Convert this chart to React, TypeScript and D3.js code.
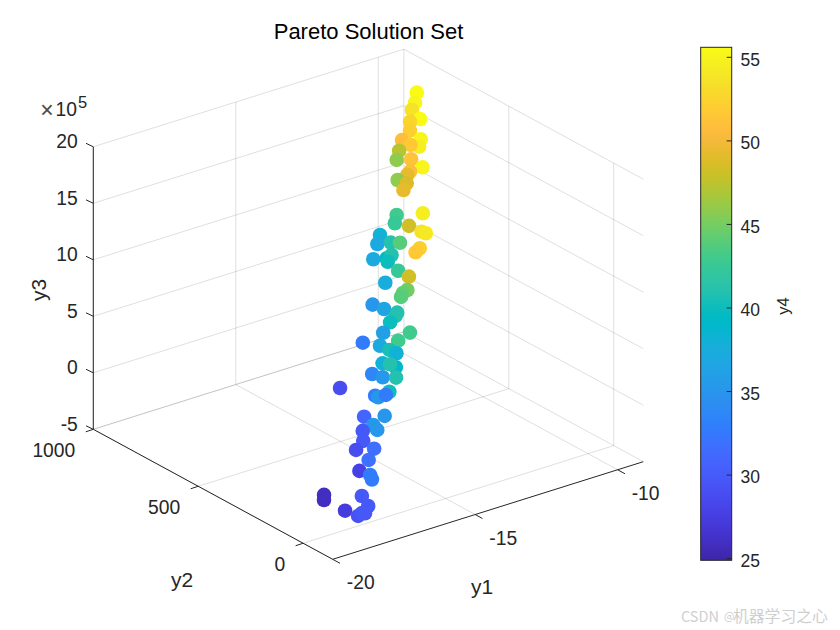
import React from "react";
import * as d3 from "d3";

// Values. A 3D position cannot be recovered exactly from one view,
// so y1, y2 and y3 are estimates consistent with each marker's position.
const y1Values = [-9.65,-9.86,-10.05,-10.02,-10.29,-10.44,-10.35,-10.51,-10.78,-10.67,-11.02,-11.23,-10.9,-10.78,-11.13,-11.25,-11.55,-11.4,-11.59,-11.55,-12.16,-12.34,-12.07,-11.89,-11.82,-12.87,-13.08,-12.76,-12.56,-12.21,-12.37,-13.43,-13.11,-12.95,-13.15,-13.07,-12.93,-13.56,-13.19,-13.34,-13.45,-14.21,-14.03,-13.8,-13.89,-14.12,-14.45,-13.85,-15.07,-14.25,-14.74,-14.6,-14.5,-14.98,-14.75,-14.83,-15.39,-15.21,-14.92,-16.34,-15.31,-15.69,-15.65,-15.44,-16.29,-15.82,-16.23,-16.22,-16.56,-16.72,-16.61,-17.03,-16.92,-17.31,-17.14,-17.18,-18.5,-18.59,-17.68,-17.71,-17.9,-18.3,-18.1,-17.96];
const y2Values = [864,844,833,798,809,789,750,736,781,755,762,745,721,683,695,692,697,674,664,577,619,603,572,537,526,602,586,566,549,502,500,558,537,536,527,488,456,483,428,429,423,455,425,394,389,384,372,326,385,328,348,322,302,303,271,288,297,271,247,321,226,242,233,225,213,179,178,160,183,159,122,151,106,97,69,55,104,92,35,1,-10,31,-4,-4];
const y3Values = [17.96,17.44,17.06,16.59,16.45,15.98,15.54,15.15,15.5,15.24,14.94,14.46,14.5,14.08,13.85,13.68,13.42,13.25,12.9,11.69,11.6,11.17,11.03,10.73,10.65,10.56,10.09,10.16,10.16,9.87,9.66,9.3,9.35,9.52,9.17,8.7,8.39,8.08,7.7,7.54,7.34,6.94,6.71,6.52,6.35,6.02,5.48,5.48,4.96,5.06,4.8,4.58,4.41,3.89,3.68,3.84,3.33,3.16,3.14,2.6,2.41,2.2,2.12,2.24,1.11,1.15,0.68,0.42,0.37,-0.15,-0.55,-0.62,-1.14,-1.71,-1.92,-2.15,-2.96,-3.22,-3.01,-3.53,-3.91,-3.78,-4.05,-3.9];
const y4Values = [55.5,54.8,53.5,55.5,52.5,52,55,54.5,50.5,51.5,47,46,51,55,50.5,49,46,48.5,49,54.5,43,42.5,48,53.5,54,38,37,41,44,52,51.5,37,39.5,41,40,42.5,48,37.5,45,44.5,44,35,36.5,41,41,40,36,43,33,43,37,40.5,38,38,39,41,34,35,41,29,40,33,35,33,31,35,35,35,30,30,32,29,32,28,33,33,26,26,30,30,30,27.5,29.5,30];

const y1Ticks = [-20, -15, -10];
const y2Ticks = [0, 500, 1000];
const y3Ticks = [-5, 0, 5, 10, 15, 20];
const y4Ticks = [25, 30, 35, 40, 45, 50, 55];
const y1Limits = [-20, -9.1];
const y2Limits = [-141, 1000];
const y3Limits = [-5, 20];
const y4Limits = [24.9, 55.6];

const parula: number[][] = [
[0.2422,0.1504,0.6603],[0.2504,0.165,0.7076],[0.2578,0.1818,0.7511],[0.2647,0.1978,0.7952],[0.2706,0.2147,0.8364],[0.2751,0.2342,0.871],[0.2783,0.2559,0.8991],[0.2803,0.2782,0.9221],[0.2813,0.3006,0.9414],[0.281,0.3228,0.9579],[0.2795,0.3447,0.9717],[0.276,0.3667,0.9829],[0.2699,0.3892,0.9906],[0.2602,0.4123,0.9952],[0.244,0.4358,0.9988],[0.2206,0.4603,0.9973],[0.1963,0.4847,0.9892],[0.1834,0.5074,0.9798],[0.1786,0.5289,0.9682],[0.1764,0.5499,0.952],[0.1687,0.5703,0.9359],[0.154,0.5902,0.9218],[0.146,0.6091,0.9079],[0.138,0.6276,0.8973],[0.1248,0.6459,0.8883],[0.1113,0.6635,0.8763],[0.0952,0.6798,0.8598],[0.0689,0.6948,0.8394],[0.0297,0.7082,0.8163],[0.0036,0.7203,0.7917],[0.0067,0.7312,0.766],[0.0433,0.7411,0.7394],[0.0964,0.75,0.712],[0.1408,0.7584,0.6842],[0.1717,0.767,0.6554],[0.1938,0.7758,0.6251],[0.2161,0.7843,0.5923],[0.247,0.7918,0.5567],[0.2906,0.7973,0.5188],[0.3406,0.8008,0.4789],[0.3909,0.8029,0.4354],[0.4456,0.8024,0.3909],[0.5044,0.7993,0.348],[0.5616,0.7942,0.3045],[0.6174,0.7876,0.2612],[0.672,0.7793,0.2227],[0.7242,0.7698,0.191],[0.7738,0.7598,0.1646],[0.8203,0.7498,0.1535],[0.8634,0.7406,0.1596],[0.9035,0.733,0.1774],[0.9393,0.7288,0.21],[0.9728,0.7298,0.2394],[0.9956,0.7434,0.2371],[0.997,0.7659,0.2199],[0.9952,0.7893,0.2028],[0.9892,0.8136,0.1885],[0.9786,0.8386,0.1766],[0.9676,0.8639,0.1643],[0.961,0.889,0.1537],[0.9597,0.9135,0.1423],[0.9628,0.9373,0.1265],[0.9691,0.9606,0.1064],[0.9769,0.9839,0.0805]];
const parulaHex = parula.map(([r, g, b]) => d3.rgb(r * 255, g * 255, b * 255).formatHex());

const FONT = "'Liberation Sans', Arial, sans-serif";
const CJK = "'Noto Sans CJK SC', 'Noto Sans', sans-serif";
const INK = "#262626";

const u1 = d3.scaleLinear().domain(y1Limits).range([0, 1]);
const u2 = d3.scaleLinear().domain(y2Limits).range([0, 1]);
const u3 = d3.scaleLinear().domain(y3Limits).range([0, 1]);

// Orthographic projection of the plot box on the page
const project = (a: number, b: number, c: number): [number, number] => [
  332.7 + 310.6 * u1(a) - 239.4 * u2(b),
  559.3 - 97.6 * u1(a) - 130 * u2(b) - 282.5 * u3(c),
];

const colorScale = d3.scaleQuantize<string>().domain(y4Limits).range(parulaHex);
const barY = d3.scaleLinear().domain(y4Limits).range([560.3, 47.3]);

const Seg = ({ p, q, grid }: { p: [number, number]; q: [number, number]; grid?: boolean }) => (
  <line
    x1={p[0]} y1={p[1]} x2={q[0]} y2={q[1]}
    stroke={INK}
    strokeOpacity={grid ? 0.15 : 1}
    strokeWidth={1}
  />
);

const App = () => {
  const [y1Min, y1Max] = y1Limits;
  const [y2Min, y2Max] = y2Limits;
  const [y3Min, y3Max] = y3Limits;
  const ticksTextStyle = { fontFamily: FONT, fontSize: 19.3, fill: INK };
  const labelStyle = { fontFamily: FONT, fontSize: 21, fill: INK };

  return (
    <svg
      width={840}
      height={630}
      viewBox="0 0 840 630"
      style={{ position: "absolute", left: 0, top: 0, background: "#fff" }}
    >
      <defs>
        <linearGradient id="parulaBar" x1="0" y1="1" x2="0" y2="0">
          {parulaHex.map((c, i) => (
            <stop key={i} offset={i / (parulaHex.length - 1)} stopColor={c} />
          ))}
        </linearGradient>
      </defs>

      {/* grid on the two walls and the floor */}
      <g>
        {y1Ticks.map((t) => (
          <g key={`g1${t}`}>
            <Seg grid p={project(t, y2Max, y3Min)} q={project(t, y2Max, y3Max)} />
            <Seg grid p={project(t, y2Max, y3Min)} q={project(t, y2Min, y3Min)} />
          </g>
        ))}
        {y2Ticks.map((t) => (
          <g key={`g2${t}`}>
            <Seg grid p={project(y1Max, t, y3Min)} q={project(y1Max, t, y3Max)} />
            <Seg grid p={project(y1Min, t, y3Min)} q={project(y1Max, t, y3Min)} />
          </g>
        ))}
        {y3Ticks.map((t) => (
          <g key={`g3${t}`}>
            <Seg grid p={project(y1Min, y2Max, t)} q={project(y1Max, y2Max, t)} />
            <Seg grid p={project(y1Max, y2Max, t)} q={project(y1Max, y2Min, t)} />
          </g>
        ))}
      </g>

      {/* axes */}
      <Seg p={project(y1Min, y2Max, y3Min)} q={project(y1Min, y2Max, y3Max)} />
      <Seg p={project(y1Min, y2Max, y3Min)} q={project(y1Min, y2Min, y3Min)} />
      <Seg p={project(y1Min, y2Min, y3Min)} q={project(y1Max, y2Min, y3Min)} />

      {y3Ticks.map((t) => {
        const p = project(y1Min, y2Max, t);
        return (
          <g key={`t3${t}`}>
            <line x1={p[0]} y1={p[1]} x2={p[0] - 7.3} y2={p[1] - 3.5} stroke={INK} />
            <text x={p[0] - 15.5} y={p[1] - 5.3} textAnchor="end" dominantBaseline="central" style={ticksTextStyle}>{t}</text>
          </g>
        );
      })}
      {y2Ticks.map((t) => {
        const p = project(y1Min, t, y3Min);
        return (
          <g key={`t2${t}`}>
            <line x1={p[0]} y1={p[1]} x2={p[0] - 7.5} y2={p[1] + 2.5} stroke={INK} />
            <text x={p[0] - 18} y={p[1] + 21} textAnchor="end" dominantBaseline="central" style={ticksTextStyle}>{t}</text>
          </g>
        );
      })}
      {y1Ticks.map((t) => {
        const p = project(t, y2Min, y3Min);
        return (
          <g key={`t1${t}`}>
            <line x1={p[0]} y1={p[1]} x2={p[0] + 7.3} y2={p[1] + 4} stroke={INK} />
            <text x={p[0] + 28} y={p[1] + 23.5} textAnchor="middle" dominantBaseline="central" style={ticksTextStyle}>{t}</text>
          </g>
        );
      })}

      {/* exponent */}
      <text x={47} y={110} textAnchor="middle" dominantBaseline="central" style={{ fontFamily: FONT, fontSize: 23, fill: "#4a4a4a" }}>×</text>
      <text x={55.5} y={109} dominantBaseline="central" style={ticksTextStyle}>10</text>
      <text x={78} y={102} dominantBaseline="central" style={{ fontFamily: FONT, fontSize: 16.5, fill: INK }}>5</text>

      {/* axis labels and title */}
      <text x={482} y={586} textAnchor="middle" dominantBaseline="central" style={labelStyle}>y1</text>
      <text x={182} y={579} textAnchor="middle" dominantBaseline="central" style={labelStyle}>y2</text>
      <text transform="translate(38,290) rotate(-90)" textAnchor="middle" dominantBaseline="central" style={labelStyle}>y3</text>
      <text x={368.5} y={31} textAnchor="middle" dominantBaseline="central" style={{ fontFamily: FONT, fontSize: 22, fill: "#000" }}>Pareto Solution Set</text>

      {/* points */}
      <g>
        {y1Values.map((v, i) => {
          const [x, y] = project(v, y2Values[i], y3Values[i]);
          return <circle key={i} cx={x} cy={y} r={7.3} fill={colorScale(y4Values[i])} />;
        })}
      </g>

      {/* colour bar */}
      <g>
        <rect x={700.7} y={47.3} width={31} height={513} fill="url(#parulaBar)" stroke={INK} />
        {y4Ticks.map((t) => (
          <g key={`t4${t}`}>
            <line x1={731.7} x2={726.7} y1={barY(t)} y2={barY(t)} stroke={INK} />
            <text x={740.5} y={barY(t) + 2.3} dominantBaseline="central" style={{ fontFamily: FONT, fontSize: 17.5, fill: INK }}>{t}</text>
          </g>
        ))}
        <text transform="translate(783,306) rotate(-90)" textAnchor="middle" dominantBaseline="central" style={{ fontFamily: FONT, fontSize: 16.5, fill: INK }}>y4</text>
      </g>

      {/* watermark */}
      <g style={{ fontFamily: CJK, fill: "#cfcfcf" }} dominantBaseline="central">
        <text x={681} y={615} fontSize={14.5}>CSDN</text>
        <text x={724} y={615} fontSize={11}>@</text>
        <text x={733} y={615} fontSize={15.8}>机器学习之心</text>
      </g>
    </svg>
  );
};

export default App;
